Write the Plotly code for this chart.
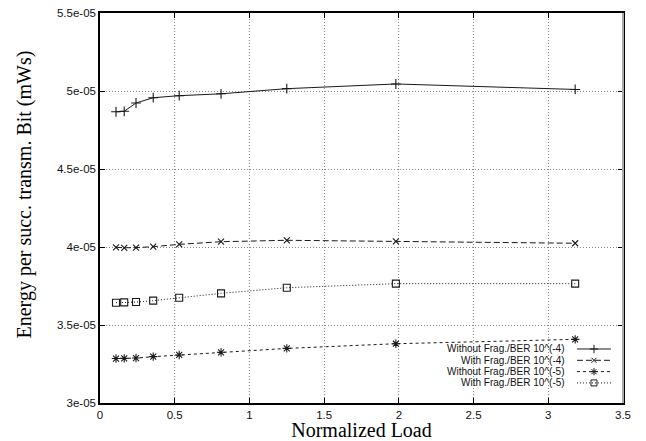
import plotly.graph_objects as go

load = [0.107, 0.162, 0.241, 0.356, 0.53, 0.81, 1.25, 1.98, 3.18]
without_frag_4 = [4.867e-5, 4.87e-5, 4.923e-5, 4.957e-5, 4.97e-5, 4.982e-5, 5.015e-5, 5.045e-5, 5.01e-5]
with_frag_4 = [3.998e-5, 3.995e-5, 3.996e-5, 4.002e-5, 4.017e-5, 4.034e-5, 4.043e-5, 4.036e-5, 4.024e-5]
without_frag_5 = [3.285e-5, 3.286e-5, 3.288e-5, 3.297e-5, 3.308e-5, 3.325e-5, 3.35e-5, 3.38e-5, 3.408e-5]
with_frag_5 = [3.643e-5, 3.645e-5, 3.647e-5, 3.656e-5, 3.675e-5, 3.703e-5, 3.739e-5, 3.765e-5, 3.765e-5]

names = ["Without Frag./BER 10^(-4)", "With Frag./BER 10^(-4)",
         "Without Frag./BER 10^(-5)", "With Frag./BER 10^(-5)"]
series = [without_frag_4, with_frag_4, without_frag_5, with_frag_5]
dashes = ["solid", "6px,3px", "3px,3px", "1px,2px"]
symbols = ["cross-thin-open", "x-thin-open", "asterisk-open", "square-open"]
sizes = [7, 6, 7, 7]

x_ticks = [0, 0.5, 1, 1.5, 2, 2.5, 3, 3.5]
x_ticktext = ["0", "0.5", "1", "1.5", "2", "2.5", "3", "3.5"]
y_ticks = [3e-5, 3.5e-5, 4e-5, 4.5e-5, 5e-5, 5.5e-5]
y_ticktext = ["3e-05", "3.5e-05", "4e-05", "4.5e-05", "5e-05", "5.5e-05"]

INK = "#1a1a1a"

fig = go.Figure()
for name, ys, d, s, sz in zip(names, series, dashes, symbols, sizes):
    fig.add_trace(go.Scatter(
        x=load, y=ys, name=name, mode="lines+markers",
        line=dict(color=INK, width=1, dash=d),
        marker=dict(symbol=s, size=sz, color=INK, line=dict(width=1.1, color=INK)),
        showlegend=False,
    ))

# gnuplot-style key: text right-aligned, line sample to its right
leg_y = [0.1385, 0.1095, 0.0805, 0.0515]
for name, d, s, sz, yy in zip(names, dashes, symbols, sizes, leg_y):
    fig.add_trace(go.Scatter(
        x=[0.912, 0.977], y=[yy, yy], mode="lines", xaxis="x2", yaxis="y2",
        line=dict(color=INK, width=1, dash=d), showlegend=False, hoverinfo="skip"))
    fig.add_trace(go.Scatter(
        x=[0.9445], y=[yy], mode="markers", xaxis="x2", yaxis="y2",
        marker=dict(symbol=s, size=sz - 1, color=INK, line=dict(width=1.0, color=INK)),
        showlegend=False, hoverinfo="skip"))
    fig.add_annotation(text=name, xref="paper", yref="paper", x=0.893, y=yy,
                       xanchor="right", yanchor="middle", showarrow=False,
                       font=dict(family="Liberation Sans, Arial", size=10, color="#111"))

# y-axis title
fig.add_annotation(text="Energy per succ. transm. Bit (mWs)", textangle=-90,
                   xref="paper", yref="paper", x=-0.145, y=0.535,
                   xanchor="center", yanchor="middle", showarrow=False,
                   font=dict(family="Liberation Serif, Times New Roman", size=20, color="black"))

axis_common = dict(
    showline=True, linecolor="black", linewidth=1.5, mirror="ticks",
    ticks="inside", ticklen=5, tickcolor="black", tickwidth=1,
    showgrid=True, gridcolor="#888", griddash="1px,2px", gridwidth=1,
    zeroline=False, automargin=False,
    tickfont=dict(family="Liberation Sans, Arial", size=11.5, color="#111"),
)

fig.update_layout(
    width=646, height=441,
    margin=dict(l=100, r=23, t=13, b=38),
    paper_bgcolor="white", plot_bgcolor="white",
    xaxis=dict(range=[0, 3.5], tickvals=x_ticks, ticktext=x_ticktext,
               title=dict(text="Normalized Load", standoff=0,
                          font=dict(family="Liberation Serif, Times New Roman", size=20, color="black")),
               **axis_common),
    yaxis=dict(range=[3e-5, 5.5e-5], tickvals=y_ticks, ticktext=y_ticktext, **axis_common),
    xaxis2=dict(domain=[0, 1], range=[0, 1], visible=False, anchor="y2", overlaying="x"),
    yaxis2=dict(domain=[0, 1], range=[0, 1], visible=False, anchor="x2", overlaying="y"),
    shapes=[dict(type="line", xref="paper", yref="paper", x0=1, x1=1, y0=0, y1=1,
                 line=dict(color="#aaa", width=2))],
)

fig.write_html("out.html")
